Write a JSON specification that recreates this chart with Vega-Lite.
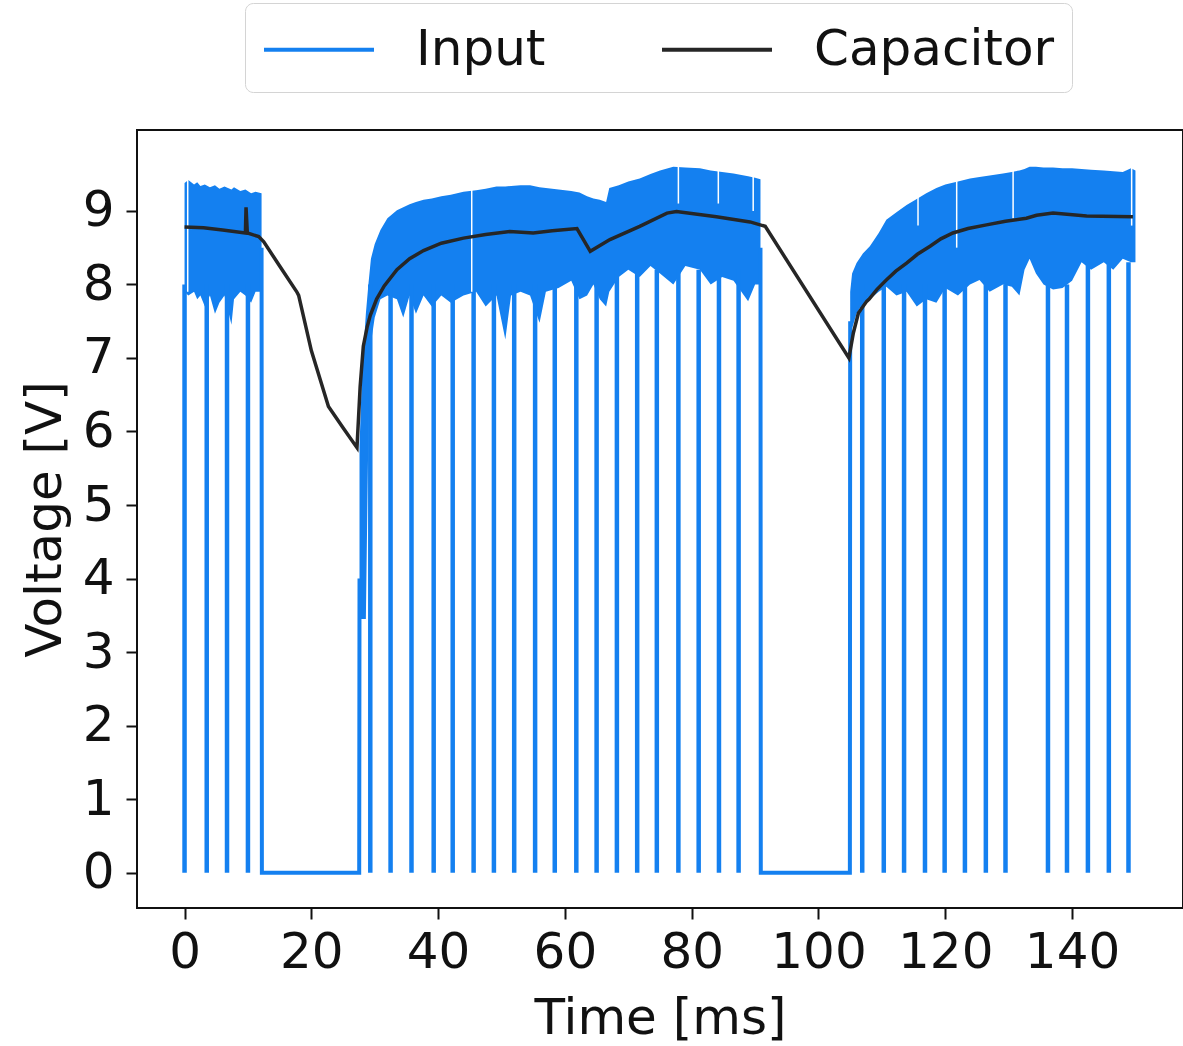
{
  "$schema": "https://vega.github.io/schema/vega-lite/v6.json",
  "width": 1046,
  "height": 778,
  "autosize": {"type": "none"},
  "padding": {"left": 137, "top": 130, "right": 0, "bottom": 138},
  "background": "white",
  "config": {
    "view": {"stroke": "#111111", "strokeWidth": 2},
    "font": "DejaVu Sans",
    "axis": {
      "grid": false,
      "domain": false,
      "labelFont": "DejaVu Sans",
      "titleFont": "DejaVu Sans",
      "labelFontSize": 50,
      "titleFontSize": 50,
      "titleFontWeight": "normal",
      "labelColor": "#111111",
      "titleColor": "#111111",
      "tickColor": "#111111",
      "tickSize": 11,
      "tickWidth": 2
    },
    "legend": {
      "orient": "none",
      "legendX": 108,
      "legendY": -127,
      "direction": "horizontal",
      "symbolType": "M -1 0 L 3 0",
      "symbolSize": 3025,
      "symbolStrokeWidth": 4,
      "labelFont": "DejaVu Sans",
      "labelFontSize": 50,
      "labelColor": "#111111",
      "labelOffset": 95,
      "labelLimit": 0,
      "columnPadding": 108,
      "padding": 17,
      "fillColor": "white",
      "strokeColor": "#d4d4d4",
      "cornerRadius": 8
    }
  },
  "datasets": {
    "band": [
      {"seg": 1, "t": 0.0, "lo": 7.9, "hi": 9.38},
      {"seg": 1, "t": 0.6, "lo": 7.85, "hi": 9.42},
      {"seg": 1, "t": 1.5, "lo": 7.9, "hi": 9.36},
      {"seg": 1, "t": 2.0, "lo": 7.8, "hi": 9.39},
      {"seg": 1, "t": 2.5, "lo": 7.85, "hi": 9.34},
      {"seg": 1, "t": 3.2, "lo": 7.7, "hi": 9.36},
      {"seg": 1, "t": 4.0, "lo": 7.85, "hi": 9.32},
      {"seg": 1, "t": 4.8, "lo": 7.6, "hi": 9.35},
      {"seg": 1, "t": 5.5, "lo": 7.75, "hi": 9.3},
      {"seg": 1, "t": 6.3, "lo": 7.85, "hi": 9.33},
      {"seg": 1, "t": 7.4, "lo": 7.45, "hi": 9.29},
      {"seg": 1, "t": 7.8, "lo": 7.8, "hi": 9.32},
      {"seg": 1, "t": 8.8, "lo": 7.9, "hi": 9.27},
      {"seg": 1, "t": 9.6, "lo": 7.85, "hi": 9.29},
      {"seg": 1, "t": 10.5, "lo": 7.75, "hi": 9.24},
      {"seg": 1, "t": 11.2, "lo": 7.9, "hi": 9.26},
      {"seg": 1, "t": 12.15, "lo": 7.9, "hi": 9.24},
      {"seg": 2, "t": 27.6, "lo": 3.45, "hi": 5.8},
      {"seg": 2, "t": 28.0, "lo": 3.45, "hi": 6.8},
      {"seg": 2, "t": 28.6, "lo": 3.45, "hi": 7.6},
      {"seg": 2, "t": 29.0, "lo": 6.0, "hi": 8.0},
      {"seg": 2, "t": 29.4, "lo": 7.2, "hi": 8.35},
      {"seg": 2, "t": 30.0, "lo": 7.55, "hi": 8.55},
      {"seg": 2, "t": 30.9, "lo": 7.8, "hi": 8.74},
      {"seg": 2, "t": 32.0, "lo": 7.85, "hi": 8.9},
      {"seg": 2, "t": 33.5, "lo": 7.8, "hi": 9.01},
      {"seg": 2, "t": 34.5, "lo": 7.55, "hi": 9.05},
      {"seg": 2, "t": 35.5, "lo": 7.85, "hi": 9.09},
      {"seg": 2, "t": 36.5, "lo": 7.6, "hi": 9.12},
      {"seg": 2, "t": 37.7, "lo": 7.85, "hi": 9.15},
      {"seg": 2, "t": 39.0, "lo": 7.7, "hi": 9.17},
      {"seg": 2, "t": 40.5, "lo": 7.85, "hi": 9.2},
      {"seg": 2, "t": 42.0, "lo": 7.75, "hi": 9.22},
      {"seg": 2, "t": 44.0, "lo": 7.85, "hi": 9.26},
      {"seg": 2, "t": 46.0, "lo": 7.9, "hi": 9.28},
      {"seg": 2, "t": 47.5, "lo": 7.7, "hi": 9.3},
      {"seg": 2, "t": 49.2, "lo": 7.85, "hi": 9.33},
      {"seg": 2, "t": 50.6, "lo": 7.25, "hi": 9.33},
      {"seg": 2, "t": 51.5, "lo": 7.85, "hi": 9.34},
      {"seg": 2, "t": 53.0, "lo": 7.9, "hi": 9.35},
      {"seg": 2, "t": 54.5, "lo": 7.85, "hi": 9.35},
      {"seg": 2, "t": 56.0, "lo": 7.48, "hi": 9.32},
      {"seg": 2, "t": 57.0, "lo": 7.9, "hi": 9.31},
      {"seg": 2, "t": 59.0, "lo": 7.95, "hi": 9.29},
      {"seg": 2, "t": 61.0, "lo": 8.05, "hi": 9.27},
      {"seg": 2, "t": 62.3, "lo": 7.8, "hi": 9.25},
      {"seg": 2, "t": 63.5, "lo": 7.85, "hi": 9.2},
      {"seg": 2, "t": 64.5, "lo": 8.0, "hi": 9.17},
      {"seg": 2, "t": 65.5, "lo": 7.8, "hi": 9.15},
      {"seg": 2, "t": 66.5, "lo": 7.7, "hi": 9.12},
      {"seg": 2, "t": 67.0, "lo": 7.9, "hi": 9.31},
      {"seg": 2, "t": 68.5, "lo": 8.1, "hi": 9.35},
      {"seg": 2, "t": 70.0, "lo": 8.2, "hi": 9.4},
      {"seg": 2, "t": 71.8, "lo": 8.1, "hi": 9.44},
      {"seg": 2, "t": 73.5, "lo": 8.25, "hi": 9.5},
      {"seg": 2, "t": 75.0, "lo": 8.15, "hi": 9.55},
      {"seg": 2, "t": 77.1, "lo": 8.0, "hi": 9.6},
      {"seg": 2, "t": 79.0, "lo": 8.25, "hi": 9.59},
      {"seg": 2, "t": 81.3, "lo": 8.2, "hi": 9.58},
      {"seg": 2, "t": 83.0, "lo": 8.0, "hi": 9.55},
      {"seg": 2, "t": 84.8, "lo": 8.1, "hi": 9.53},
      {"seg": 2, "t": 86.6, "lo": 8.05, "hi": 9.51},
      {"seg": 2, "t": 88.9, "lo": 7.77, "hi": 9.47},
      {"seg": 2, "t": 90.0, "lo": 8.0, "hi": 9.45},
      {"seg": 2, "t": 90.85, "lo": 8.0, "hi": 9.43},
      {"seg": 3, "t": 105.0, "lo": 7.0, "hi": 7.9},
      {"seg": 3, "t": 105.3, "lo": 7.4, "hi": 8.15},
      {"seg": 3, "t": 106.0, "lo": 7.6, "hi": 8.29},
      {"seg": 3, "t": 107.0, "lo": 7.75, "hi": 8.42},
      {"seg": 3, "t": 108.1, "lo": 7.8, "hi": 8.52},
      {"seg": 3, "t": 109.5, "lo": 7.9, "hi": 8.7},
      {"seg": 3, "t": 110.7, "lo": 7.97, "hi": 8.88},
      {"seg": 3, "t": 112.3, "lo": 7.85, "hi": 8.98},
      {"seg": 3, "t": 113.9, "lo": 7.9, "hi": 9.08},
      {"seg": 3, "t": 115.5, "lo": 7.7, "hi": 9.16},
      {"seg": 3, "t": 117.0, "lo": 7.8, "hi": 9.24},
      {"seg": 3, "t": 118.6, "lo": 7.75, "hi": 9.31},
      {"seg": 3, "t": 120.0, "lo": 7.95, "hi": 9.36},
      {"seg": 3, "t": 122.0, "lo": 7.85, "hi": 9.4},
      {"seg": 3, "t": 123.9, "lo": 8.0, "hi": 9.44},
      {"seg": 3, "t": 125.4, "lo": 8.06, "hi": 9.46},
      {"seg": 3, "t": 127.0, "lo": 7.9, "hi": 9.48},
      {"seg": 3, "t": 129.1, "lo": 8.0, "hi": 9.51},
      {"seg": 3, "t": 130.5, "lo": 7.97, "hi": 9.53},
      {"seg": 3, "t": 131.7, "lo": 7.85, "hi": 9.55},
      {"seg": 3, "t": 132.5, "lo": 8.2, "hi": 9.57},
      {"seg": 3, "t": 133.3, "lo": 8.35, "hi": 9.6},
      {"seg": 3, "t": 134.3, "lo": 8.15, "hi": 9.6},
      {"seg": 3, "t": 135.5, "lo": 8.0, "hi": 9.59},
      {"seg": 3, "t": 137.0, "lo": 7.93, "hi": 9.59},
      {"seg": 3, "t": 138.5, "lo": 7.95, "hi": 9.58},
      {"seg": 3, "t": 140.0, "lo": 8.05, "hi": 9.58},
      {"seg": 3, "t": 141.5, "lo": 8.3, "hi": 9.57},
      {"seg": 3, "t": 143.0, "lo": 8.2, "hi": 9.56},
      {"seg": 3, "t": 145.0, "lo": 8.3, "hi": 9.55},
      {"seg": 3, "t": 146.5, "lo": 8.2, "hi": 9.54},
      {"seg": 3, "t": 148.0, "lo": 8.35, "hi": 9.53},
      {"seg": 3, "t": 149.3, "lo": 8.3, "hi": 9.58},
      {"seg": 3, "t": 150.0, "lo": 8.3, "hi": 9.55}
    ],
    "spikes": [
      {"t": 0.0, "top": 8.0}, {"t": 3.5, "top": 8.0}, {"t": 6.7, "top": 8.0}, {"t": 10.0, "top": 8.0},
      {"t": 29.3, "top": 8.0}, {"t": 32.5, "top": 8.0}, {"t": 35.8, "top": 8.0}, {"t": 39.3, "top": 8.0},
      {"t": 42.3, "top": 8.0}, {"t": 45.6, "top": 8.0}, {"t": 48.8, "top": 8.0}, {"t": 52.0, "top": 8.0},
      {"t": 55.3, "top": 8.0}, {"t": 58.4, "top": 8.0}, {"t": 61.8, "top": 8.0}, {"t": 65.0, "top": 8.0},
      {"t": 68.2, "top": 8.2}, {"t": 71.4, "top": 8.2}, {"t": 74.5, "top": 8.2}, {"t": 77.9, "top": 8.2},
      {"t": 81.1, "top": 8.2}, {"t": 84.3, "top": 8.2}, {"t": 87.4, "top": 8.2},
      {"t": 106.9, "top": 8.0}, {"t": 110.3, "top": 8.0}, {"t": 113.5, "top": 8.0}, {"t": 116.8, "top": 8.0},
      {"t": 119.9, "top": 8.0}, {"t": 123.1, "top": 8.0}, {"t": 126.4, "top": 8.0}, {"t": 129.5, "top": 8.0},
      {"t": 136.2, "top": 8.0}, {"t": 139.2, "top": 8.0}, {"t": 142.5, "top": 8.3}, {"t": 145.8, "top": 8.3},
      {"t": 148.9, "top": 8.3}
    ],
    "gaps": [
      {"t": 0.5, "lo": 7.9, "hi": 9.45},
      {"t": 45.3, "lo": 7.9, "hi": 9.35},
      {"t": 77.9, "lo": 9.1, "hi": 9.65},
      {"t": 84.2, "lo": 9.1, "hi": 9.6},
      {"t": 89.7, "lo": 9.0, "hi": 9.5},
      {"t": 115.7, "lo": 8.8, "hi": 9.2},
      {"t": 121.8, "lo": 8.5, "hi": 9.45},
      {"t": 130.7, "lo": 8.9, "hi": 9.58},
      {"t": 149.4, "lo": 8.8, "hi": 9.65}
    ],
    "inputEdges": [
      {"series": "Input", "seg": "off1", "t": 12.15, "v": 8.5},
      {"series": "Input", "seg": "off1", "t": 12.2, "v": 0},
      {"series": "Input", "seg": "off1", "t": 27.55, "v": 0},
      {"series": "Input", "seg": "off1", "t": 27.6, "v": 4.0},
      {"series": "Input", "seg": "off2", "t": 90.85, "v": 8.5},
      {"series": "Input", "seg": "off2", "t": 90.9, "v": 0},
      {"series": "Input", "seg": "off2", "t": 104.95, "v": 0},
      {"series": "Input", "seg": "off2", "t": 105.0, "v": 7.5}
    ],
    "capacitor": [
      {"series": "Capacitor", "t": 0, "v": 8.78},
      {"series": "Capacitor", "t": 3, "v": 8.77},
      {"series": "Capacitor", "t": 6, "v": 8.74},
      {"series": "Capacitor", "t": 9.6, "v": 8.7},
      {"series": "Capacitor", "t": 9.7, "v": 9.05},
      {"series": "Capacitor", "t": 9.9, "v": 8.7},
      {"series": "Capacitor", "t": 11.7, "v": 8.65},
      {"series": "Capacitor", "t": 12.5, "v": 8.58},
      {"series": "Capacitor", "t": 15, "v": 8.25},
      {"series": "Capacitor", "t": 17.7, "v": 7.9},
      {"series": "Capacitor", "t": 18.0, "v": 7.85},
      {"series": "Capacitor", "t": 20, "v": 7.1},
      {"series": "Capacitor", "t": 22.7, "v": 6.34},
      {"series": "Capacitor", "t": 25, "v": 6.05},
      {"series": "Capacitor", "t": 27.2, "v": 5.78},
      {"series": "Capacitor", "t": 27.7, "v": 6.61},
      {"series": "Capacitor", "t": 28.2, "v": 7.16},
      {"series": "Capacitor", "t": 28.8, "v": 7.42},
      {"series": "Capacitor", "t": 29.3, "v": 7.58},
      {"series": "Capacitor", "t": 30.3, "v": 7.8},
      {"series": "Capacitor", "t": 31.5, "v": 7.98},
      {"series": "Capacitor", "t": 33.5, "v": 8.2},
      {"series": "Capacitor", "t": 35.5, "v": 8.35},
      {"series": "Capacitor", "t": 37.7, "v": 8.46},
      {"series": "Capacitor", "t": 40.5, "v": 8.56},
      {"series": "Capacitor", "t": 44, "v": 8.63},
      {"series": "Capacitor", "t": 47.5, "v": 8.68},
      {"series": "Capacitor", "t": 51.3, "v": 8.72},
      {"series": "Capacitor", "t": 55, "v": 8.7},
      {"series": "Capacitor", "t": 58, "v": 8.73},
      {"series": "Capacitor", "t": 61.9, "v": 8.76},
      {"series": "Capacitor", "t": 64, "v": 8.45},
      {"series": "Capacitor", "t": 67.1, "v": 8.61},
      {"series": "Capacitor", "t": 71.8, "v": 8.79},
      {"series": "Capacitor", "t": 76.1, "v": 8.97},
      {"series": "Capacitor", "t": 77.6, "v": 8.99},
      {"series": "Capacitor", "t": 83.9, "v": 8.92},
      {"series": "Capacitor", "t": 89.2, "v": 8.85},
      {"series": "Capacitor", "t": 91.6, "v": 8.79},
      {"series": "Capacitor", "t": 104.8, "v": 7.0},
      {"series": "Capacitor", "t": 105.5, "v": 7.34},
      {"series": "Capacitor", "t": 106.3, "v": 7.61},
      {"series": "Capacitor", "t": 107.6, "v": 7.77},
      {"series": "Capacitor", "t": 108, "v": 7.8},
      {"series": "Capacitor", "t": 109.2, "v": 7.93},
      {"series": "Capacitor", "t": 110.7, "v": 8.06},
      {"series": "Capacitor", "t": 112.2, "v": 8.18},
      {"series": "Capacitor", "t": 113.9, "v": 8.29},
      {"series": "Capacitor", "t": 115.6, "v": 8.41},
      {"series": "Capacitor", "t": 117.6, "v": 8.52},
      {"series": "Capacitor", "t": 119.3, "v": 8.62},
      {"series": "Capacitor", "t": 121.2, "v": 8.7},
      {"series": "Capacitor", "t": 123.6, "v": 8.76},
      {"series": "Capacitor", "t": 126.5, "v": 8.81},
      {"series": "Capacitor", "t": 129.5, "v": 8.86},
      {"series": "Capacitor", "t": 132.8, "v": 8.9},
      {"series": "Capacitor", "t": 134.4, "v": 8.94},
      {"series": "Capacitor", "t": 137, "v": 8.97},
      {"series": "Capacitor", "t": 142.3, "v": 8.93},
      {"series": "Capacitor", "t": 149.6, "v": 8.92}
    ]
  },
  "encoding": {
    "x": {
      "type": "quantitative",
      "scale": {"domain": [-7.5, 157.5], "nice": false, "zero": false},
      "axis": {"title": "Time [ms]", "values": [0, 20, 40, 60, 80, 100, 120, 140], "labelPadding": 8, "titlePadding": 16}
    },
    "y": {
      "type": "quantitative",
      "scale": {"domain": [-0.48, 10.1], "nice": false, "zero": false},
      "axis": {"title": "Voltage [V]", "values": [0, 1, 2, 3, 4, 5, 6, 7, 8, 9], "labelPadding": 12, "titlePadding": 12}
    }
  },
  "layer": [
    {
      "data": {"name": "band"},
      "mark": {"type": "area", "color": "#1480f0", "opacity": 1},
      "encoding": {
        "x": {"field": "t", "type": "quantitative"},
        "y": {"field": "hi", "type": "quantitative"},
        "y2": {"field": "lo"},
        "detail": {"field": "seg", "type": "nominal"}
      }
    },
    {
      "data": {"name": "spikes"},
      "mark": {"type": "rule", "color": "#1480f0", "strokeWidth": 4.5},
      "encoding": {
        "x": {"field": "t", "type": "quantitative"},
        "y": {"field": "top", "type": "quantitative"},
        "y2": {"datum": 0}
      }
    },
    {
      "data": {"name": "gaps"},
      "mark": {"type": "rule", "color": "white", "strokeWidth": 1.5},
      "encoding": {
        "x": {"field": "t", "type": "quantitative"},
        "y": {"field": "hi", "type": "quantitative"},
        "y2": {"field": "lo"}
      }
    },
    {
      "data": {"name": "inputEdges"},
      "mark": {"type": "line", "strokeWidth": 4},
      "encoding": {
        "x": {"field": "t", "type": "quantitative"},
        "y": {"field": "v", "type": "quantitative"},
        "detail": {"field": "seg", "type": "nominal"},
        "color": {
          "field": "series",
          "type": "nominal",
          "scale": {"domain": ["Input", "Capacitor"], "range": ["#1480f0", "#262626"]},
          "legend": {"title": null}
        }
      }
    },
    {
      "data": {"name": "capacitor"},
      "mark": {"type": "line", "strokeWidth": 3.5},
      "encoding": {
        "x": {"field": "t", "type": "quantitative"},
        "y": {"field": "v", "type": "quantitative"},
        "color": {"field": "series", "type": "nominal"}
      }
    }
  ]
}
